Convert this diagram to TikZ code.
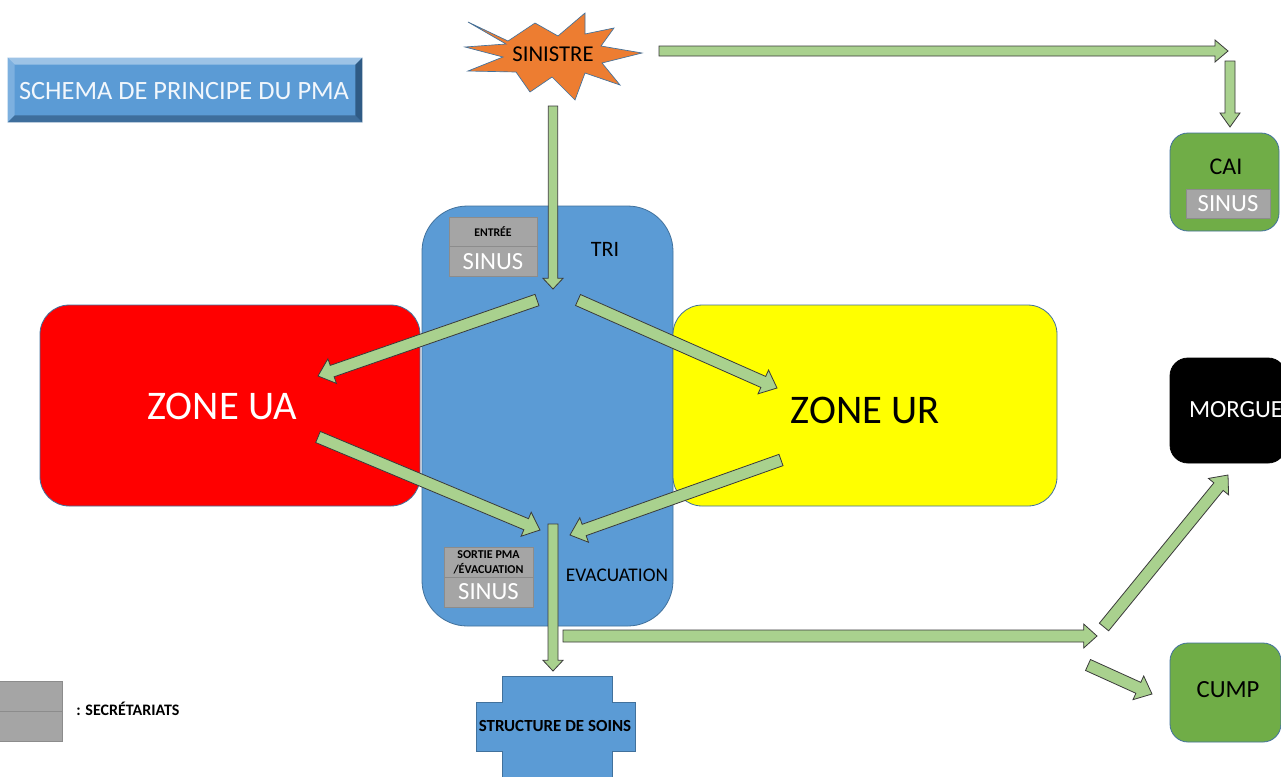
\documentclass[tikz,border=0pt]{standalone}
\usepackage{fontspec}
\setmainfont{Carlito}
\usetikzlibrary{calc}
\definecolor{pblue}{HTML}{5B9BD5}
\definecolor{bordblue}{HTML}{41719C}
\definecolor{pred}{HTML}{FF0000}
\definecolor{pyellow}{HTML}{FFFF00}
\definecolor{pgreen}{HTML}{70AD47}
\definecolor{porange}{HTML}{ED7D31}
\definecolor{secgray}{HTML}{A5A5A5}
\definecolor{secborder}{HTML}{8C8C8C}
\definecolor{arrowfill}{HTML}{A9D18E}
\definecolor{arrowline}{HTML}{3A3A3A}
\definecolor{bevlight}{HTML}{9DC3E6}
\definecolor{bevmid}{HTML}{7DB0DF}
\definecolor{bevdark}{HTML}{3E6E9C}
\definecolor{bevdarker}{HTML}{2F5B85}
\definecolor{titletextcol}{HTML}{F2F7FC}
\newcommand{\fsz}[1]{\fontsize{#1}{#1}\selectfont}
% fat block arrow: start, tip, shaft half width, head half width, head length
\newcommand{\fatarrow}[5]{%
  \coordinate (fa-h) at ($(#2)!#5!(#1)$);
  \draw[arrowbody] ($(#1)!#3!90:(#2)$) -- ($(fa-h)!#3!90:(#2)$) -- ($(fa-h)!#4!90:(#2)$) -- (#2)
    -- ($(fa-h)!#4!-90:(#2)$) -- ($(fa-h)!#3!-90:(#2)$) -- ($(#1)!#3!-90:(#2)$) -- cycle;
}
\begin{document}
\begin{tikzpicture}[x=0.75pt,y=-0.75pt,
  box/.style={draw=bordblue, line width=0.6pt, inner sep=0pt},
  secbox/.style={draw=secborder, fill=secgray, line width=0.6pt, inner sep=0pt},
  arrowbody/.style={draw=arrowline, fill=arrowfill, line width=0.6pt, line join=miter},
  lbl/.style={inner sep=0pt}]
\useasboundingbox (0,0) rectangle (1281,776);
\fill[white] (0,0) rectangle (1281,776);

% ---- title (bevel)
\node[inner sep=0pt, minimum width=265.5pt, minimum height=48pt, fill=pblue] (title) at (185,90) {};
\fill[bevlight] (title.north west) -- (title.north east) -- ($(title.north east)+(-7,7)$) -- ($(title.north west)+(7,7)$) -- cycle;
\fill[bevmid] (title.north west) -- ($(title.north west)+(7,7)$) -- ($(title.south west)+(7,-7)$) -- (title.south west) -- cycle;
\fill[bevdark] (title.south west) -- ($(title.south west)+(7,-7)$) -- ($(title.south east)+(-7,-7)$) -- (title.south east) -- cycle;
\fill[bevdarker] (title.north east) -- (title.south east) -- ($(title.south east)+(-7,-7)$) -- ($(title.north east)+(-7,7)$) -- cycle;
\node[lbl, text=titletextcol] (titletext) at (184,91) {\fsz{19.8}SCHEMA DE PRINCIPE DU PMA};

% ---- SINISTRE starburst
\draw[fill=porange, draw=bordblue, line width=0.5pt]
  (468,22) -- (508,41) -- (535,23) -- (558,36) -- (585,13) -- (585,34) -- (614,28) -- (601,46)
  -- (642,53) -- (602,63) -- (620,85) -- (585,73) -- (575,100) -- (552,77) -- (530,92) -- (516,72)
  -- (468,71) -- (503,57) -- (465,47) -- (506,44) -- cycle;
\node[lbl] (sinistre) at (553,54) {\fsz{17}SINISTRE};

% ---- main zones
\node[box, fill=pblue, rounded corners=34pt, minimum width=188.25pt, minimum height=315pt] (tri) at (547.5,416) {};
\node[box, fill=pred, rounded corners=22pt, minimum width=285pt, minimum height=150.75pt] (ua) at (230,405.5) {};
\node[box, fill=pyellow, rounded corners=22pt, minimum width=288pt, minimum height=150.75pt] (ur) at (865,405.5) {};
\node[lbl, text=white] (uatext) at (222,406) {\fsz{30.5}ZONE UA};
\node[lbl] (urtext) at (865,410) {\fsz{30.5}ZONE UR};
\node[lbl] (tritext) at (605,249) {\fsz{16.5}TRI};
\node[lbl] (evactext) at (617,575) {\fsz{14.5}EVACUATION};

% ---- secretariat boxes
\node[secbox, minimum width=66pt, minimum height=21.75pt] (entree) at (493,231.5) {\fsz{8.8}\bfseries ENTRÉE};
\node[secbox, minimum width=66pt, minimum height=22.5pt, text=white] (sinus1) at (493,261.5) {\fsz{18.5}SINUS};
\node[secbox, minimum width=66.75pt, minimum height=22.5pt, align=center] (sortie) at (488.5,562) {\fsz{9}\bfseries SORTIE PMA\\[-1pt]\fsz{9}\bfseries /ÉVACUATION};
\node[secbox, minimum width=66.75pt, minimum height=22.5pt, text=white] (sinus2) at (488.5,592) {\fsz{18.5}SINUS};

% ---- right side boxes
\node[box, fill=pgreen, rounded corners=13.5pt, minimum width=81.75pt, minimum height=73.5pt] (cai) at (1224.5,182) {};
\node[lbl] (caitext) at (1226,167) {\fsz{18}CAI};
\node[secbox, minimum width=63pt, minimum height=21.75pt, text=white] (sinus3) at (1228,203.5) {\fsz{18.5}SINUS};
\node[box, draw=black, fill=black, rounded corners=13.5pt, minimum width=87pt, minimum height=78.75pt] (morgue) at (1228,410.5) {};
\node[lbl, text=white] (morguetext) at (1236,410) {\fsz{18.5}MORGUE};
\node[box, fill=pgreen, rounded corners=13.5pt, minimum width=83.25pt, minimum height=74.25pt] (cump) at (1225.5,692.5) {};
\node[lbl] (cumptext) at (1228,690) {\fsz{18.5}CUMP};

% ---- structure de soins (cross)
\draw[fill=pblue, draw=bordblue, line width=0.6pt]
  (502,676) -- (612,676) -- (612,702) -- (635,702) -- (635,751) -- (612,751) -- (612,780)
  -- (502,780) -- (502,751) -- (476,751) -- (476,702) -- (502,702) -- cycle;
\node[lbl] (soins) at (555,726) {\fsz{12.7}\bfseries STRUCTURE DE SOINS};

% ---- legend
\node[secbox, minimum width=48pt, minimum height=22.5pt] (leg1) at (30.5,696) {};
\node[secbox, minimum width=48pt, minimum height=22.5pt] (leg2) at (30.5,726) {};
\node[lbl, anchor=west] (legtext) at (76,709) {\fsz{12}\bfseries : SECRÉTARIATS};

% ---- arrows
\coordinate (a1s) at (659,51);   \coordinate (a1e) at (1228,51);
\coordinate (a2s) at (1230,61);  \coordinate (a2e) at (1230,127);
\coordinate (a3s) at (553,106);  \coordinate (a3e) at (553,289);
\coordinate (a4s) at (537,300);  \coordinate (a4e) at (318,376);
\coordinate (a5s) at (578,300);  \coordinate (a5e) at (777,388);
\coordinate (a6s) at (318,437);  \coordinate (a6e) at (540,530);
\coordinate (a7s) at (781,460);  \coordinate (a7e) at (570,535);
\coordinate (a8s) at (553,524);  \coordinate (a8e) at (553,671);
\coordinate (a9s) at (563,636);  \coordinate (a9e) at (1097,636);
\coordinate (a10s) at (1104,627); \coordinate (a10e) at (1228,475);
\coordinate (a11s) at (1088,665); \coordinate (a11e) at (1152,694);

\fatarrow{a1s}{a1e}{3.75pt}{8.25pt}{9.75pt}
\fatarrow{a2s}{a2e}{3.75pt}{7.5pt}{10.5pt}
\fatarrow{a3s}{a3e}{3.5pt}{7.5pt}{8pt}
\fatarrow{a4s}{a4e}{4.5pt}{9.75pt}{11.25pt}
\fatarrow{a5s}{a5e}{4.5pt}{9.75pt}{11.25pt}
\fatarrow{a6s}{a6e}{4.5pt}{9.75pt}{11.25pt}
\fatarrow{a7s}{a7e}{4.5pt}{9.75pt}{11.25pt}
\fatarrow{a8s}{a8e}{3.75pt}{7.5pt}{8pt}
\fatarrow{a9s}{a9e}{4.5pt}{9pt}{10pt}
\fatarrow{a10s}{a10e}{4.5pt}{9.75pt}{11.25pt}
\fatarrow{a11s}{a11e}{4.5pt}{9.75pt}{11.25pt}
\end{tikzpicture}
\end{document}
